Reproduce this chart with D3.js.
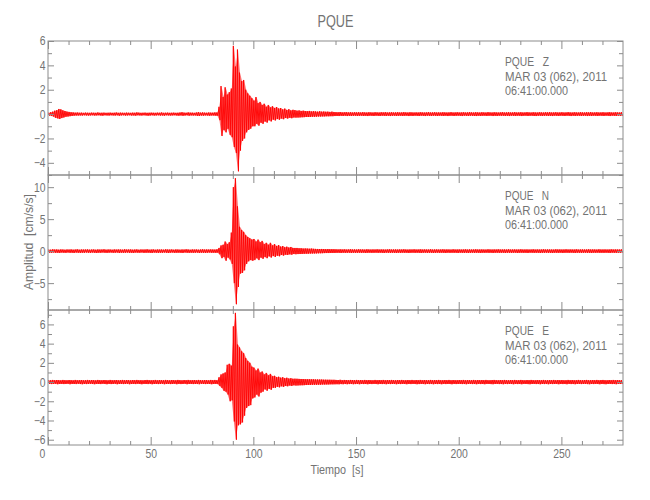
<!DOCTYPE html>
<html><head><meta charset="utf-8">
<script src="https://cdn.jsdelivr.net/npm/d3@7"></script>
<style>
body{margin:0;background:#fff}
svg text{font-family:"Liberation Sans",Arial,sans-serif;fill:#737373}
</style></head><body><svg id="c" width="650" height="500"></svg>
<script>
// ---------- data ----------
const stationName = "PQUE";
const componentNames = ["Z", "N", "E"];
const dateLabel = "MAR 03 (062), 2011";
const timeLabel = "06:41:00.000";
const xTitle = "Tiempo  [s]";
const yTitle = "Amplitud  [cm/s/s]";
const timeRange = [0, 280];
const binSeconds = 1;
const xMajorTicks = [0, 50, 100, 150, 200, 250];
const xMinorTicks = [10,20,30,40,60,70,80,90,110,120,130,140,160,170,180,190,210,220,230,240,260,270];
const yRanges = [[-5, 6], [-9.2, 11.9], [-6.55, 7.5]];
const yMajorTicks = [[-4, -2, 0, 2, 4, 6], [-5, 0, 5, 10], [-6, -4, -2, 0, 2, 4, 6]];
const yMinorTicks = [[-5, -3, -1, 1, 3, 5], [-7.5, -2.5, 2.5, 7.5], [-5, -3, -1, 1, 3, 5, 7]];

// per-second max / min of each component (cm/s/s)
const zMax = [
.12,.15,.2,.28,.32,.42,.38,.3,.25,.2,
.18,.15,.14,.12,.13,.11,.12,.1,.12,.11,
.1,.12,.11,.1,.13,.1,.11,.12,.1,.11,
.12,.1,.11,.13,.1,.12,.11,.1,.12,.11,
.1,.12,.11,.14,.12,.1,.11,.12,.1,.11,
.12,.11,.1,.12,.11,.13,.1,.11,.12,.1,
.11,.12,.1,.11,.13,.15,.12,.11,.14,.12,
.12,.1,.13,.16,.12,.14,.12,.11,.13,.12,
.12,.14,.13,.6,2.3,1.4,2.2,1.6,1.8,2.1,
5.6,3.9,5.3,3.4,2.7,2.8,2.0,1.7,1.5,1.3,
1.1,1.4,.9,1.0,.75,.85,.6,.75,.55,.65,
.5,.58,.45,.5,.38,.45,.33,.4,.3,.35,
.32,.28,.3,.26,.28,.25,.24,.26,.22,.24,
.22,.2,.23,.2,.21,.19,.2,.18,.2,.17,
.16,.15,.17,.14,.15,.16,.14,.15,.13,.15,
.14,.15,.13,.16,.14,.13,.15,.14,.13,.15,
.14,.13,.15,.14,.16,.13,.14,.15,.13,.14,
.15,.13,.14,.16,.14,.13,.15,.14,.13,.14,
.13,.15,.14,.13,.14,.16,.13,.14,.15,.13,
.14,.13,.15,.14,.13,.14,.16,.13,.14,.15,
.13,.14,.15,.13,.14,.16,.14,.13,.15,.14,
.13,.15,.14,.13,.16,.14,.13,.15,.14,.13,
.14,.16,.13,.14,.15,.13,.14,.16,.13,.14,
.15,.13,.14,.16,.14,.13,.15,.14,.13,.15,
.14,.13,.15,.14,.16,.13,.14,.15,.13,.14,
.15,.13,.14,.16,.14,.13,.15,.14,.13,.15,
.14,.13,.15,.14,.16,.13,.14,.15,.13,.14,
.15,.13,.14,.16,.14,.13,.15,.14,.13,.15];
const zMin = [
-.12,-.15,-.2,-.3,-.35,-.4,-.33,-.28,-.22,-.2,
-.17,-.15,-.13,-.12,-.12,-.11,-.12,-.1,-.11,-.12,
-.11,-.1,-.12,-.11,-.1,-.12,-.13,-.1,-.11,-.12,
-.1,-.11,-.12,-.1,-.13,-.11,-.1,-.12,-.11,-.1,
-.12,-.11,-.13,-.1,-.11,-.12,-.1,-.11,-.13,-.12,
-.1,-.12,-.11,-.1,-.12,-.11,-.13,-.1,-.11,-.12,
-.11,-.1,-.12,-.13,-.11,-.14,-.12,-.1,-.13,-.11,
-.12,-.11,-.14,-.15,-.12,-.13,-.11,-.12,-.14,-.12,
-.12,-.13,-.14,-.5,-1.8,-1.3,-1.5,-1.2,-1.7,-1.9,
-2.7,-3.2,-4.7,-3.0,-2.2,-2.0,-1.5,-1.3,-1.2,-1.0,
-1.0,-.8,-.95,-.7,-.8,-.6,-.7,-.5,-.6,-.45,
-.52,-.4,-.46,-.36,-.42,-.32,-.37,-.3,-.34,-.28,
-.29,-.28,-.27,-.26,-.25,-.24,-.24,-.23,-.22,-.22,
-.21,-.2,-.2,-.19,-.19,-.18,-.18,-.17,-.17,-.16,
-.15,-.16,-.14,-.15,-.13,-.16,-.14,-.15,-.14,-.13,
-.15,-.14,-.13,-.15,-.14,-.16,-.13,-.14,-.15,-.13,
-.14,-.15,-.13,-.14,-.15,-.13,-.16,-.14,-.13,-.15,
-.14,-.13,-.15,-.14,-.13,-.16,-.14,-.15,-.13,-.14,
-.15,-.13,-.14,-.16,-.13,-.14,-.15,-.13,-.14,-.15,
-.13,-.14,-.15,-.13,-.16,-.14,-.13,-.15,-.14,-.13,
-.14,-.16,-.13,-.14,-.15,-.13,-.14,-.15,-.16,-.13,
-.15,-.14,-.13,-.15,-.14,-.13,-.16,-.14,-.15,-.13,
-.14,-.13,-.15,-.14,-.16,-.13,-.14,-.15,-.13,-.14,
-.16,-.14,-.13,-.15,-.14,-.13,-.15,-.16,-.14,-.13,
-.15,-.14,-.13,-.15,-.14,-.16,-.13,-.14,-.15,-.13,
-.14,-.15,-.13,-.14,-.16,-.13,-.15,-.14,-.13,-.15,
-.14,-.13,-.16,-.14,-.15,-.13,-.14,-.15,-.13,-.14,
-.15,-.13,-.14,-.16,-.13,-.14,-.15,-.13,-.14,-.15];
const nMax = [
.25,.22,.28,.24,.26,.23,.27,.25,.22,.26,
.24,.27,.23,.25,.28,.22,.26,.24,.25,.27,
.23,.25,.26,.22,.27,.24,.25,.28,.23,.26,
.25,.22,.27,.24,.26,.25,.23,.28,.24,.25,
.26,.23,.25,.27,.22,.26,.24,.25,.28,.23,
.25,.27,.22,.26,.24,.25,.23,.28,.25,.24,
.26,.22,.27,.25,.23,.26,.24,.28,.25,.22,
.27,.24,.26,.23,.25,.28,.24,.26,.25,.27,
.26,.24,.28,.5,.9,1.0,1.5,1.1,1.4,2.9,
10.0,11.4,7.0,3.8,3.3,3.0,2.5,2.2,2.0,1.8,
1.9,1.5,1.8,1.4,1.6,1.1,1.3,1.0,1.3,.9,
1.1,.8,.95,.7,.8,.6,.7,.55,.65,.5,
.5,.5,.45,.45,.4,.42,.4,.38,.4,.36,
.35,.34,.33,.34,.32,.31,.32,.3,.31,.3,
.28,.27,.29,.26,.28,.25,.27,.29,.26,.27,
.25,.28,.26,.27,.24,.28,.26,.25,.27,.26,
.28,.25,.27,.26,.24,.27,.28,.25,.26,.27,
.25,.27,.26,.28,.25,.24,.27,.26,.28,.25,
.26,.28,.25,.27,.26,.25,.28,.24,.26,.27,
.25,.26,.28,.25,.27,.26,.24,.28,.25,.26,
.27,.25,.26,.28,.24,.27,.25,.26,.28,.25,
.26,.27,.25,.24,.28,.26,.25,.27,.26,.28,
.25,.26,.27,.25,.28,.24,.26,.27,.25,.26,
.28,.25,.26,.27,.25,.26,.28,.24,.27,.25,
.26,.28,.25,.27,.26,.25,.24,.28,.26,.27,
.25,.26,.28,.25,.27,.26,.25,.28,.24,.26,
.27,.25,.26,.28,.25,.27,.26,.24,.28,.25,
.26,.27,.25,.26,.28,.25,.27,.26,.25,.27];
const nMin = [
-.24,-.27,-.22,-.26,-.25,-.28,-.23,-.25,-.27,-.22,
-.26,-.24,-.28,-.23,-.25,-.27,-.24,-.26,-.22,-.25,
-.27,-.23,-.25,-.28,-.24,-.26,-.22,-.25,-.27,-.24,
-.23,-.26,-.25,-.22,-.28,-.24,-.26,-.25,-.23,-.27,
-.25,-.28,-.23,-.24,-.26,-.22,-.27,-.25,-.24,-.26,
-.28,-.23,-.25,-.27,-.24,-.26,-.22,-.25,-.28,-.24,
-.23,-.27,-.25,-.24,-.26,-.28,-.22,-.25,-.27,-.24,
-.26,-.25,-.23,-.28,-.24,-.26,-.27,-.25,-.23,-.26,
-.25,-.27,-.24,-.5,-1.1,-.9,-1.5,-1.0,-1.3,-2.0,
-5.0,-8.3,-5.6,-3.5,-3.4,-3.0,-2.0,-1.6,-1.4,-1.5,
-1.4,-1.1,-1.4,-1.0,-1.2,-.9,-1.1,-.8,-1.0,-.75,
-.9,-.7,-.8,-.6,-.7,-.55,-.6,-.5,-.55,-.45,
-.48,-.46,-.45,-.43,-.42,-.4,-.4,-.38,-.37,-.36,
-.35,-.34,-.33,-.32,-.31,-.3,-.3,-.29,-.28,-.28,
-.27,-.26,-.28,-.25,-.27,-.26,-.24,-.28,-.25,-.27,
-.26,-.25,-.27,-.24,-.28,-.26,-.25,-.27,-.26,-.24,
-.27,-.25,-.26,-.28,-.24,-.26,-.27,-.25,-.26,-.28,
-.25,-.27,-.24,-.26,-.25,-.28,-.26,-.24,-.27,-.25,
-.26,-.28,-.25,-.24,-.27,-.26,-.25,-.28,-.26,-.24,
-.27,-.25,-.26,-.28,-.24,-.27,-.25,-.26,-.25,-.28,
-.24,-.26,-.27,-.25,-.28,-.26,-.24,-.27,-.25,-.26,
-.28,-.25,-.26,-.24,-.27,-.25,-.28,-.26,-.25,-.27,
-.26,-.24,-.28,-.25,-.26,-.27,-.25,-.24,-.28,-.26,
-.25,-.27,-.26,-.28,-.24,-.25,-.27,-.26,-.25,-.28,
-.26,-.25,-.24,-.27,-.26,-.28,-.25,-.26,-.27,-.24,
-.28,-.26,-.25,-.27,-.24,-.26,-.28,-.25,-.26,-.27,
-.25,-.24,-.27,-.26,-.28,-.25,-.26,-.24,-.27,-.26,
-.27,-.25,-.26,-.28,-.24,-.26,-.27,-.25,-.26,-.25];
const eMax = [
.2,.18,.22,.19,.21,.2,.18,.22,.2,.19,
.21,.2,.18,.22,.19,.2,.21,.18,.2,.22,
.19,.21,.2,.18,.22,.2,.19,.21,.2,.18,
.22,.19,.2,.21,.18,.2,.22,.19,.21,.2,
.18,.21,.2,.22,.19,.2,.18,.21,.22,.2,
.19,.2,.22,.18,.21,.2,.19,.22,.2,.18,
.21,.2,.19,.22,.2,.18,.21,.2,.22,.19,
.2,.21,.18,.22,.2,.19,.21,.2,.18,.22,
.2,.22,.19,.5,.8,.9,1.0,1.8,1.9,1.7,
5.8,7.2,3.9,3.6,3.2,3.0,2.5,2.2,2.0,1.6,
1.5,1.2,1.4,1.0,1.1,.8,.95,.7,.85,.6,
.65,.5,.55,.45,.5,.4,.45,.36,.4,.34,
.35,.34,.33,.32,.31,.3,.3,.29,.28,.28,
.27,.27,.26,.26,.25,.25,.24,.24,.23,.23,
.22,.21,.23,.2,.22,.21,.2,.22,.21,.2,
.22,.2,.21,.19,.22,.2,.21,.2,.19,.22,
.2,.21,.2,.22,.19,.21,.2,.22,.2,.19,
.21,.2,.22,.19,.2,.21,.2,.22,.19,.21,
.2,.22,.19,.21,.2,.2,.22,.19,.21,.2,
.22,.19,.2,.21,.2,.22,.19,.21,.2,.2,
.21,.2,.22,.19,.21,.2,.2,.22,.19,.21,
.2,.21,.2,.22,.19,.2,.21,.22,.2,.19,
.21,.2,.22,.2,.19,.21,.2,.22,.19,.2,
.22,.2,.19,.21,.2,.22,.2,.19,.21,.2,
.2,.22,.19,.2,.21,.2,.22,.19,.21,.2,
.21,.19,.2,.22,.2,.21,.19,.2,.22,.2,
.2,.21,.22,.19,.2,.21,.2,.22,.19,.21,
.22,.2,.19,.21,.2,.22,.2,.21,.19,.2];
const eMin = [
-.19,-.21,-.2,-.18,-.22,-.2,-.19,-.21,-.2,-.18,
-.22,-.19,-.2,-.21,-.18,-.2,-.22,-.19,-.21,-.2,
-.18,-.2,-.22,-.19,-.2,-.21,-.18,-.2,-.22,-.19,
-.21,-.2,-.18,-.22,-.2,-.19,-.21,-.2,-.18,-.22,
-.2,-.19,-.21,-.18,-.2,-.22,-.19,-.2,-.21,-.18,
-.22,-.2,-.19,-.21,-.2,-.18,-.22,-.2,-.19,-.21,
-.2,-.18,-.22,-.19,-.21,-.2,-.18,-.22,-.2,-.19,
-.21,-.2,-.19,-.22,-.18,-.2,-.21,-.19,-.2,-.22,
-.2,-.19,-.21,-.4,-.6,-.9,-1.0,-1.3,-2.0,-1.9,
-4.1,-6.0,-4.5,-4.4,-4.2,-3.5,-2.7,-2.5,-2.4,-1.7,
-1.6,-1.3,-1.5,-1.1,-1.0,-.75,-.9,-.7,-.8,-.6,
-.6,-.48,-.55,-.44,-.5,-.4,-.44,-.36,-.4,-.34,
-.36,-.35,-.34,-.33,-.32,-.31,-.3,-.3,-.29,-.28,
-.28,-.27,-.27,-.26,-.26,-.25,-.25,-.24,-.24,-.23,
-.22,-.23,-.21,-.22,-.2,-.22,-.21,-.2,-.22,-.21,
-.2,-.22,-.19,-.21,-.2,-.22,-.2,-.21,-.19,-.2,
-.22,-.2,-.21,-.19,-.22,-.2,-.21,-.2,-.19,-.22,
-.2,-.21,-.19,-.2,-.22,-.2,-.21,-.19,-.2,-.22,
-.21,-.19,-.2,-.22,-.2,-.21,-.19,-.22,-.2,-.21,
-.2,-.22,-.19,-.21,-.2,-.2,-.22,-.19,-.21,-.2,
-.19,-.21,-.2,-.22,-.2,-.19,-.21,-.2,-.22,-.19,
-.21,-.2,-.22,-.19,-.2,-.21,-.22,-.2,-.19,-.21,
-.2,-.22,-.19,-.21,-.2,-.2,-.22,-.19,-.21,-.2,
-.22,-.19,-.2,-.21,-.22,-.2,-.19,-.21,-.2,-.22,
-.2,-.21,-.19,-.22,-.2,-.21,-.2,-.19,-.22,-.2,
-.21,-.2,-.22,-.19,-.21,-.2,-.22,-.2,-.19,-.21,
-.2,-.19,-.21,-.22,-.2,-.21,-.19,-.2,-.22,-.2,
-.21,-.22,-.2,-.19,-.21,-.2,-.22,-.19,-.2,-.21];
const seriesMax = [zMax, nMax, eMax];
const seriesMin = [zMin, nMin, eMin];

// ---------- drawing ----------
const svg = d3.select("#c");
const axisColor = "#8c8c8c";
const panelTops = [41, 175, 310], panelBottoms = [175, 310, 445];
const x = d3.scaleLinear().domain(timeRange).range([48, 623]);
const fmt = d3.format("");
const charW = 5.8;
const squeeze = (sel, w) => sel.each(function () {
  const n = this.textContent.length;
  if (n) d3.select(this).attr("textLength", w != null ? w : n * charW).attr("lengthAdjust", "spacingAndGlyphs");
});

svg.append("text").attr("x", 335.5).attr("y", 27).attr("text-anchor", "middle")
  .attr("font-size", 16).text(stationName).call(squeeze, 36);

const annWidths = [44, 102, 63];

componentNames.forEach((comp, p) => {
  const top = panelTops[p], bot = panelBottoms[p];
  const y = d3.scaleLinear().domain(yRanges[p]).range([bot, top]);
  const g = svg.append("g");

  // trace (min/max per bin)
  const pts = [];
  seriesMax[p].forEach((v, i) => {
    pts.push([i * binSeconds + 0.25 * binSeconds, v]);
    pts.push([i * binSeconds + 0.75 * binSeconds, seriesMin[p][i]]);
  });
  g.append("path").datum(seriesMax[p].map((v, i) => [i * binSeconds + 0.5 * binSeconds, v, seriesMin[p][i]]))
    .attr("d", d3.area().x(d => x(d[0])).y0(d => y(d[2])).y1(d => y(d[1])))
    .attr("fill", "#ff0000").attr("fill-opacity", 0.55);
  g.append("path").datum(pts)
    .attr("d", d3.line().x(d => x(d[0])).y(d => y(d[1])))
    .attr("fill", "none").attr("stroke", "#ff0000").attr("stroke-width", 0.9);

  const addAxis = (gen, tx, ty) => {
    const a = g.append("g").attr("transform", `translate(${tx},${ty})`).call(gen)
      .attr("color", axisColor).attr("font-family", null).attr("font-size", null);
    a.select(".domain").remove();
    return a;
  };
  // left
  const la = addAxis(d3.axisLeft(y).tickValues(yMajorTicks[p]).tickSize(-6).tickPadding(2.5).tickFormat(fmt), x(timeRange[0]), 0);
  la.selectAll("text").attr("font-size", 12.4).call(squeeze);
  addAxis(d3.axisLeft(y).tickValues(yMinorTicks[p]).tickSize(-4).tickFormat(""), x(timeRange[0]), 0);
  // right
  addAxis(d3.axisRight(y).tickValues(yMajorTicks[p]).tickSize(-6).tickFormat(""), x(timeRange[1]), 0);
  addAxis(d3.axisRight(y).tickValues(yMinorTicks[p]).tickSize(-4).tickFormat(""), x(timeRange[1]), 0);
  // top
  addAxis(d3.axisTop(x).tickValues(xMajorTicks).tickSize(-8).tickFormat(""), 0, top);
  addAxis(d3.axisTop(x).tickValues(xMinorTicks).tickSize(-4).tickFormat(""), 0, top);
  // bottom
  const ba = addAxis(d3.axisBottom(x).tickValues(xMajorTicks).tickSize(-8).tickPadding(4)
    .tickFormat(p === 2 ? fmt : ""), 0, bot);
  ba.selectAll("text").attr("font-size", 12.4).call(squeeze);
  ba.selectAll("text").filter(d => d === timeRange[0]).attr("dx", -6);
  addAxis(d3.axisBottom(x).tickValues(xMinorTicks).tickSize(-4).tickFormat(""), 0, bot);

  // frame
  g.append("rect").attr("x", x(timeRange[0])).attr("y", top)
    .attr("width", x(timeRange[1]) - x(timeRange[0])).attr("height", bot - top)
    .attr("fill", "none").attr("stroke", axisColor).attr("stroke-width", 1);

  // annotation
  const ann = g.append("g").attr("transform", `translate(505,${top})`);
  [stationName + "   " + comp, dateLabel, timeLabel].forEach((t, k) => {
    ann.append("text").attr("x", 0).attr("y", 25 + k * 14.5)
      .attr("font-size", 12.4).style("white-space", "pre").text(t)
      .call(squeeze, annWidths[k]);
  });
});

svg.append("text").attr("x", 337).attr("y", 474).attr("text-anchor", "middle")
  .attr("font-size", 12.4).style("white-space", "pre").text(xTitle).call(squeeze, 53);
svg.append("text").attr("transform", "translate(33,242) rotate(-90)").attr("text-anchor", "middle")
  .attr("font-size", 12.4).style("white-space", "pre").text(yTitle).call(squeeze, 96);
</script></body></html>
